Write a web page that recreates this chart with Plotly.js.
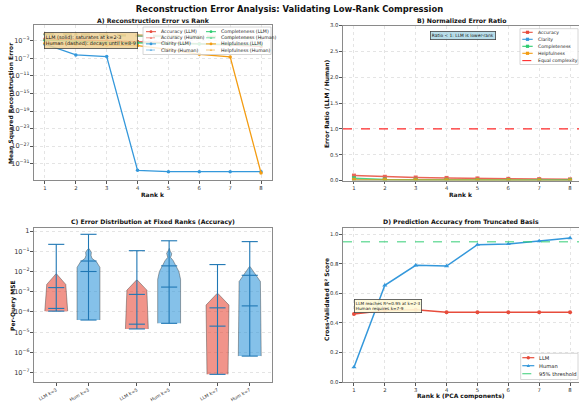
<!DOCTYPE html>
<html>
<head>
<meta charset="utf-8">
<script src="https://cdn.plot.ly/plotly-3.0.1.min.js"></script>
<style>html,body{margin:0;padding:0;background:#fff;}#chart{width:579px;height:403px;}</style>
</head>
<body>
<div id="chart"></div>
<script>
// ================= DATA =================
const ranks = [1, 2, 3, 4, 5, 6, 7, 8];
const dimensionNames = ['Accuracy', 'Clarity', 'Completeness', 'Helpfulness'];

// Panel A: mean squared reconstruction error vs rank
const mseAccuracyLLM       = [2.5e-3, 1.6e-3, 1.0e-3, 6.3e-4, 4.0e-4, 2.0e-4, 1.0e-4, 5.0e-5];
const mseAccuracyHuman     = [3.2e-2, 2.5e-2, 1.8e-2, 1.3e-2, 8.9e-3, 6.3e-3, 4.0e-3, 2.5e-3];
const mseClarityLLM        = [1.6e-4, 5.6e-7, 2.5e-7, 3.2e-33, 1.6e-33, 1.6e-33, 1.6e-33, 1.6e-33];
const mseClarityHuman      = [4.0e-2, 3.2e-2, 2.5e-2, 2.0e-2, 1.4e-2, 1.0e-2, 7.1e-3, 5.0e-3];
const mseCompletenessLLM   = [1.3e-3, 6.3e-4, 4.0e-4, 3.2e-4, 2.5e-4, 1.8e-4, 1.4e-4, 1.1e-4];
const mseCompletenessHuman = [2.8e-2, 2.0e-2, 1.6e-2, 1.1e-2, 7.9e-3, 5.6e-3, 4.0e-3, 2.8e-3];
const mseHelpfulnessLLM    = [2.5e-4, 1.3e-4, 1.0e-4, 7.9e-5, 1.0e-5, 7.9e-7, 2.0e-7, 7.9e-34];
const mseHelpfulnessHuman  = [5.0e-2, 4.0e-2, 3.2e-2, 2.5e-2, 1.8e-2, 1.3e-2, 8.9e-3, 6.3e-3];

// Panel B: error ratio LLM / Human
const ratioAccuracy     = [0.095, 0.072, 0.058, 0.050, 0.040, 0.032, 0.027, 0.022];
const ratioClarity      = [0.004, 0.002, 0.001, 0.001, 0.001, 0.001, 0.001, 0.001];
const ratioCompleteness = [0.045, 0.020, 0.015, 0.012, 0.010, 0.010, 0.008, 0.008];
const ratioHelpfulness  = [0.012, 0.008, 0.006, 0.005, 0.003, 0.002, 0.001, 0.000];
const equalComplexity = 1.0;

// Panel C: per-query MSE distributions (Accuracy)
const violinLabels = ['LLM k=3', 'Hum k=3', 'LLM k=5', 'Hum k=5', 'LLM k=7', 'Hum k=7'];
const violinMin    = [1.1e-4, 4.0e-5, 1.45e-5, 2.75e-5, 8.3e-8, 6.6e-7];
const violinMax    = [0.22, 0.69, 0.107, 0.33, 0.022, 0.30];
const violinMean   = [1.6e-3, 3.3e-2, 7.4e-4, 1.9e-2, 1.6e-4, 6.5e-3];
const violinMedian = [1.5e-4, 1.0e-2, 2.5e-5, 1.7e-3, 2.0e-5, 2.0e-4];
// density profile (MSE level -> relative density)
const violinLevels = [
  [1.1e-4, 2.3e-3, 7.6e-3],
  [4.0e-5, 1.6e-2, 3.0e-2, 4.5e-2, 6.3e-2, 8.9e-2, 1.1e-1, 1.4e-1],
  [1.45e-5, 1.2e-3, 3.8e-3],
  [2.75e-5, 4.1e-3, 1.0e-2, 2.0e-2, 3.5e-2, 5.0e-2, 6.3e-2, 7.9e-2, 1.0e-1, 1.4e-1],
  [8.3e-8, 2.2e-4, 8.3e-4],
  [6.6e-7, 3.2e-3, 1.74e-2]
];
const violinDensity = [
  [1.0, 0.83, 0.03],
  [1.0, 1.0, 0.7, 0.3, 0.22, 0.25, 0.15, 0.02],
  [1.0, 0.87, 0.03],
  [1.0, 1.0, 0.85, 0.6, 0.35, 0.12, 0.2, 0.22, 0.1, 0.02],
  [0.92, 1.0, 0.03],
  [1.0, 0.93, 0.03]
];

// Panel D: cross-validated R^2
const r2LLM   = [0.46, 0.485, 0.49, 0.472, 0.472, 0.473, 0.473, 0.473];
const r2Human = [0.10, 0.655, 0.79, 0.785, 0.93, 0.935, 0.955, 0.975];
const r2Threshold = 0.95;

// ================= STYLE / LAYOUT =================
const W = 579, H = 403;
const fx = v => v / W, fy = v => 1 - v / H;
const FONT = 'DejaVu Sans';
const dimColors = {Accuracy: '#e74c3c', Clarity: '#3498db', Completeness: '#2ecc71', Helpfulness: '#f39c12'};
const llmColor = '#e74c3c', humColor = '#3498db';
const violinPositions = [1, 2, 3.5, 4.5, 6, 7];
const violinHalfWidth = 0.355;
const statColor = '#1f77b4';

const panelA = [
  {name: 'Accuracy', llm: mseAccuracyLLM, human: mseAccuracyHuman},
  {name: 'Clarity', llm: mseClarityLLM, human: mseClarityHuman},
  {name: 'Completeness', llm: mseCompletenessLLM, human: mseCompletenessHuman},
  {name: 'Helpfulness', llm: mseHelpfulnessLLM, human: mseHelpfulnessHuman}
];
const panelB = [
  {name: 'Accuracy', r: ratioAccuracy},
  {name: 'Clarity', r: ratioClarity},
  {name: 'Completeness', r: ratioCompleteness},
  {name: 'Helpfulness', r: ratioHelpfulness}
];

const traces = [];
// ---- Panel A
panelA.forEach(d => {
  traces.push({x: ranks, y: d.llm, xaxis: 'x', yaxis: 'y', mode: 'lines+markers', name: d.name + ' (LLM)',
    line: {color: dimColors[d.name], width: 1.3}, marker: {symbol: 'circle', size: 3.5, color: dimColors[d.name]}});
  traces.push({x: ranks, y: d.human, xaxis: 'x', yaxis: 'y', mode: 'lines+markers', name: d.name + ' (Human)',
    opacity: 0.55, line: {color: dimColors[d.name], width: 1.3, dash: 'dash'},
    marker: {symbol: 'triangle-up', size: 3.5, color: dimColors[d.name]}});
});
// ---- Panel B
panelB.forEach(d => {
  traces.push({x: ranks, y: d.r, xaxis: 'x2', yaxis: 'y2', mode: 'lines+markers', name: d.name,
    line: {color: dimColors[d.name], width: 1.5}, opacity: 0.85,
    marker: {symbol: 'square', size: 4, color: dimColors[d.name]}});
});
// ---- Panel C violins
violinLabels.forEach((lab, i) => {
  const p = violinPositions[i];
  const lv = violinLevels[i], dn = violinDensity[i];
  const xs = [], ys = [];
  for (let k = 0; k < lv.length; k++) { xs.push(p - dn[k] * violinHalfWidth); ys.push(lv[k]); }
  for (let k = lv.length - 1; k >= 0; k--) { xs.push(p + dn[k] * violinHalfWidth); ys.push(lv[k]); }
  const isLLM = lab.startsWith('LLM');
  traces.push({x: xs, y: ys, xaxis: 'x3', yaxis: 'y3', mode: 'lines', fill: 'toself', name: lab,
    fillcolor: isLLM ? 'rgba(231,76,60,0.6)' : 'rgba(52,152,219,0.6)',
    line: {color: 'rgba(50,50,50,0.6)', width: 0.7}, hoverinfo: 'skip'});
});
// whiskers (min-max)
{
  const wx = [], wy = [];
  violinLabels.forEach((lab, i) => { wx.push(violinPositions[i], violinPositions[i], null); wy.push(violinMin[i], violinMax[i], null); });
  traces.push({x: wx, y: wy, xaxis: 'x3', yaxis: 'y3', mode: 'lines', line: {color: statColor, width: 1.1}, name: 'extrema'});
}
[violinMin, violinMax, violinMean, violinMedian].forEach(arr => {
  traces.push({x: violinPositions, y: arr, xaxis: 'x3', yaxis: 'y3', mode: 'markers',
    marker: {symbol: 'line-ew', size: 11.5, line: {color: statColor, width: 1.1}}});
});
// ---- Panel D
traces.push({x: ranks, y: r2LLM, xaxis: 'x4', yaxis: 'y4', mode: 'lines+markers', name: 'LLM',
  line: {color: llmColor, width: 1.5}, marker: {symbol: 'circle', size: 4, color: llmColor}});
traces.push({x: ranks, y: r2Human, xaxis: 'x4', yaxis: 'y4', mode: 'lines+markers', name: 'Human',
  line: {color: humColor, width: 1.5}, marker: {symbol: 'triangle-up', size: 4.5, color: humColor}});

// ---- shapes & annotations
const shapes = [], annotations = [];
shapes.push({type: 'line', xref: 'x2 domain', yref: 'y2', x0: 0, x1: 1, y0: equalComplexity, y1: equalComplexity,
  line: {color: '#ff2a2a', width: 1.2, dash: 'dash'}});
shapes.push({type: 'line', xref: 'x4 domain', yref: 'y4', x0: 0, x1: 1, y0: r2Threshold, y1: r2Threshold,
  line: {color: 'rgba(46,204,113,0.65)', width: 1.3, dash: 'dash'}});

function addSymbol(cx, cy, sym, color, size, opacity) {
  const r = size / 2;
  const base = {xref: 'paper', yref: 'paper', fillcolor: color, line: {width: 0}, opacity: opacity, layer: 'above'};
  if (sym === 'circle') shapes.push(Object.assign({type: 'circle', x0: fx(cx - r), x1: fx(cx + r), y0: fy(cy + r), y1: fy(cy - r)}, base));
  else if (sym === 'square') shapes.push(Object.assign({type: 'rect', x0: fx(cx - r), x1: fx(cx + r), y0: fy(cy + r), y1: fy(cy - r)}, base));
  else if (sym === 'triangle') shapes.push(Object.assign({type: 'path',
    path: `M${fx(cx - r)},${fy(cy + r * 0.8)} L${fx(cx + r)},${fy(cy + r * 0.8)} L${fx(cx)},${fy(cy - r)} Z`}, base));
}
function addLegend(box, entries, opt) {
  shapes.push({type: 'rect', xref: 'paper', yref: 'paper', x0: fx(box[0]), x1: fx(box[2]), y0: fy(box[3]), y1: fy(box[1]),
    fillcolor: 'rgba(255,255,255,0.82)', line: {color: '#cccccc', width: 0.8}, layer: 'above'});
  entries.forEach(e => {
    const op = e.opacity || 1;
    shapes.push({type: 'line', xref: 'paper', yref: 'paper', x0: fx(e.x), x1: fx(e.x + opt.lineLen), y0: fy(e.y), y1: fy(e.y),
      line: {color: e.color, width: opt.lw, dash: e.dash || 'solid'}, opacity: op, layer: 'above'});
    if (e.symbol) addSymbol(e.x + opt.lineLen / 2, e.y, e.symbol, e.color, opt.ms, op);
    annotations.push({xref: 'paper', yref: 'paper', x: fx(e.x + opt.textOff), y: fy(e.y), xanchor: 'left', yanchor: 'middle',
      text: e.label, showarrow: false, font: {family: FONT, size: opt.fs, color: '#222'}});
  });
}
// Legend A (two columns)
{
  const rows = [31.7, 37.8, 43.9, 50.0];
  const cols = [146, 206];
  const ent = [];
  panelA.forEach((d, i) => {
    const c = i < 2 ? 0 : 1, r0 = (i % 2) * 2;
    ent.push({x: cols[c], y: rows[r0], color: dimColors[d.name], symbol: 'circle', label: d.name + ' (LLM)'});
    ent.push({x: cols[c], y: rows[r0 + 1], color: dimColors[d.name], symbol: 'triangle', dash: 'dash', opacity: 0.55, label: d.name + ' (Human)'});
  });
  addLegend([143, 27, 271, 54.5], ent, {lineLen: 10, textOff: 12.5, fs: 4.7, lw: 1, ms: 2.8});
}
// Legend B
{
  const rows = [32.3, 39.3, 46.3, 53.3, 60.6];
  const ent = panelB.map((d, i) => ({x: 522.3, y: rows[i], color: dimColors[d.name], symbol: 'square', label: d.name}));
  ent.push({x: 522.3, y: rows[4], color: '#ff2a2a', dash: 'dash', label: 'Equal complexity'});
  addLegend([520, 28.7, 578, 64.5], ent, {lineLen: 10.4, textOff: 13.7, fs: 4.6, lw: 1.1, ms: 3.2});
}
// Legend D
{
  const rows = [357.7, 365.7, 373.7];
  const ent = [
    {x: 522.3, y: rows[0], color: llmColor, symbol: 'circle', label: 'LLM'},
    {x: 522.3, y: rows[1], color: humColor, symbol: 'triangle', label: 'Human'},
    {x: 522.3, y: rows[2], color: 'rgba(46,204,113,0.8)', dash: 'dash', label: '95% threshold'}
  ];
  addLegend([520.7, 353.3, 578, 379.5], ent, {lineLen: 12, textOff: 14.4, fs: 5.2, lw: 1.2, ms: 3.4});
}

function txt(x, y, text, size, opts) {
  annotations.push(Object.assign({xref: 'paper', yref: 'paper', x: fx(x), y: fy(y), text: text, showarrow: false,
    xanchor: 'center', yanchor: 'middle', font: {family: FONT, size: size, color: '#111', weight: 'bold'}}, opts || {}));
}
// subplot titles
txt(153, 20.5, 'A) Reconstruction Error vs Rank', 6.2);
txt(461, 20.5, 'B) Normalized Error Ratio', 6.2);
txt(153, 222.3, 'C) Error Distribution at Fixed Ranks (Accuracy)', 6.2);
txt(461, 222.3, 'D) Prediction Accuracy from Truncated Basis', 6.2);
// axis titles
txt(153, 194.5, 'Rank k', 6);
txt(11, 104, 'Mean Squared Reconstruction Error', 6, {textangle: -90});
txt(461, 194.5, 'Rank k', 6);
txt(326, 104, 'Error Ratio (LLM / Human)', 6, {textangle: -90});
txt(13, 306, 'Per-Query MSE', 6, {textangle: -90});
txt(461, 395.5, 'Rank k (PCA components)', 6);
txt(326, 300, 'Cross-Validated R² Score', 6, {textangle: -90});
// boxes
annotations.push({xref: 'paper', yref: 'paper', x: fx(44), y: fy(32.3), xanchor: 'left', yanchor: 'top', align: 'left',
  text: 'LLM (solid): saturates at k=2-3<br>Human (dashed): decays until k=8-9', showarrow: false,
  bgcolor: 'rgba(240,210,150,0.85)', bordercolor: '#444', borderwidth: 0.8, borderpad: 1,
  font: {family: FONT, size: 4.9, color: '#111'}});
annotations.push({xref: 'paper', yref: 'paper', x: fx(462.5), y: fy(35.6), xanchor: 'center', yanchor: 'middle',
  text: 'Ratio < 1: LLM is lower-rank', showarrow: false,
  bgcolor: 'rgba(173,216,230,0.85)', bordercolor: '#444', borderwidth: 0.8, borderpad: 1,
  font: {family: FONT, size: 4.4, color: '#111'}});
annotations.push({xref: 'paper', yref: 'paper', x: fx(353.5), y: fy(299), xanchor: 'left', yanchor: 'top', align: 'left',
  text: 'LLM reaches R²=0.95 at k=2-3<br>Human requires k=7-9', showarrow: false,
  bgcolor: 'rgba(255,250,215,0.9)', bordercolor: '#444', borderwidth: 0.8, borderpad: 1,
  font: {family: FONT, size: 4.2, color: '#111'}});

const axBase = {showline: true, mirror: true, linecolor: '#8a8a8a', linewidth: 1.1, ticks: 'outside', ticklen: 2.5,
  tickcolor: '#555', tickwidth: 0.8, tickfont: {family: FONT, size: 5.3, color: '#333'},
  showgrid: true, gridcolor: '#e4e4e4', gridwidth: 0.6, griddash: 'dot', zeroline: false, automargin: false};
const ax = o => Object.assign({}, axBase, o);

const layout = {
  width: W, height: H, margin: {l: 0, r: 0, t: 0, b: 0}, paper_bgcolor: '#fff', plot_bgcolor: '#fff',
  showlegend: false, font: {family: FONT},
  title: {text: 'Reconstruction Error Analysis: Validating Low-Rank Compression', x: 0.5, xanchor: 'center',
    y: fy(9), yanchor: 'middle', font: {family: FONT, size: 8.4, color: '#111', weight: 'bold'}},
  xaxis: ax({domain: [fx(34), fx(272)], anchor: 'y', range: [0.645, 8.355], tickvals: ranks}),
  yaxis: ax({domain: [fy(180), fy(25)], anchor: 'x', type: 'log', range: [-34.7, 0.57], dtick: 4, tick0: -3,
    exponentformat: 'power', showexponent: 'all'}),
  xaxis2: ax({domain: [fx(343), 1], anchor: 'y2', range: [0.645, 8.29], tickvals: ranks}),
  yaxis2: ax({domain: [fy(180.5), fy(25.5)], anchor: 'x2', range: [0, 3], dtick: 0.5, tickformat: '.1f'}),
  xaxis3: ax({domain: [fx(34), fx(272)], anchor: 'y3', range: [0.31, 7.69], tickvals: violinPositions, ticktext: violinLabels,
    tickangle: -30, showgrid: false, tickfont: {family: FONT, size: 4.6, color: '#333'}}),
  yaxis3: ax({domain: [fy(382), fy(228)], anchor: 'x3', type: 'log', range: [-7.46, 0.15], dtick: 1,
    exponentformat: 'power', showexponent: 'all'}),
  xaxis4: ax({domain: [fx(343), 1], anchor: 'y4', range: [0.645, 8.29], tickvals: ranks}),
  yaxis4: ax({domain: [fy(382), fy(228.3)], anchor: 'x4', range: [0, 1.041], dtick: 0.2, tickformat: '.1f'}),
  shapes: shapes, annotations: annotations
};

Plotly.newPlot('chart', traces, layout, {displayModeBar: false});
</script>
</body>
</html>
